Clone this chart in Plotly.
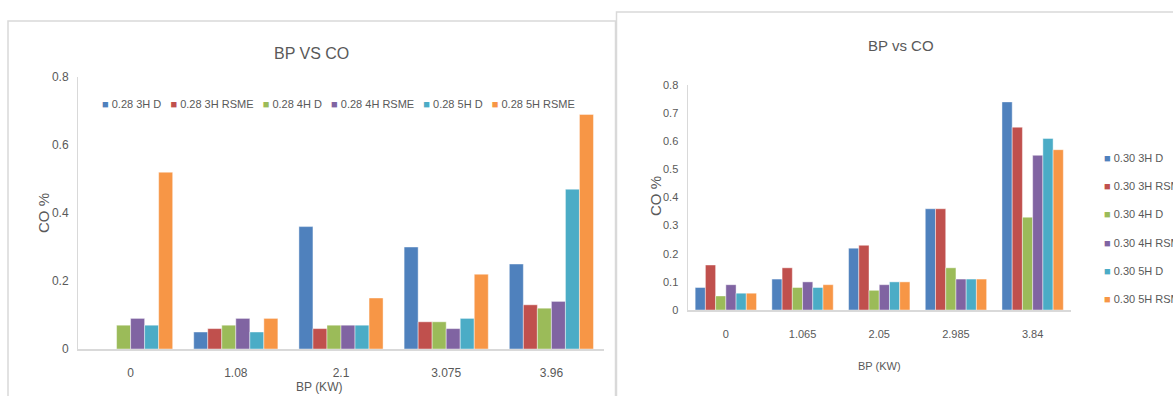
import plotly.graph_objects as go

W, H = 1173, 396

# Series shared by both charts
series = ["3H D", "3H RSME", "4H D", "4H RSME", "5H D", "5H RSME"]
colors = ["#4F81BD", "#C0504D", "#9BBB59", "#8064A2", "#4BACC6", "#F79646"]

# Chart 1: 0.28 runs
bp_028 = ["0", "1.08", "2.1", "3.075", "3.96"]
co_028_3h_d = [0, 0.05, 0.36, 0.30, 0.25]
co_028_3h_rsme = [0, 0.06, 0.06, 0.08, 0.13]
co_028_4h_d = [0.07, 0.07, 0.07, 0.08, 0.12]
co_028_4h_rsme = [0.09, 0.09, 0.07, 0.06, 0.14]
co_028_5h_d = [0.07, 0.05, 0.07, 0.09, 0.47]
co_028_5h_rsme = [0.52, 0.09, 0.15, 0.22, 0.69]

# Chart 2: 0.30 runs
bp_030 = ["0", "1.065", "2.05", "2.985", "3.84"]
co_030_3h_d = [0.08, 0.11, 0.22, 0.36, 0.74]
co_030_3h_rsme = [0.16, 0.15, 0.23, 0.36, 0.65]
co_030_4h_d = [0.05, 0.08, 0.07, 0.15, 0.33]
co_030_4h_rsme = [0.09, 0.10, 0.09, 0.11, 0.55]
co_030_5h_d = [0.06, 0.08, 0.10, 0.11, 0.61]
co_030_5h_rsme = [0.06, 0.09, 0.10, 0.11, 0.57]

left_vals = [co_028_3h_d, co_028_3h_rsme, co_028_4h_d,
             co_028_4h_rsme, co_028_5h_d, co_028_5h_rsme]
right_vals = [co_030_3h_d, co_030_3h_rsme, co_030_4h_d,
              co_030_4h_rsme, co_030_5h_d, co_030_5h_rsme]

FONT = "Liberation Sans, Arial, sans-serif"
GREY_TXT = "#595959"
GREY_LINE = "#D9D9D9"


def fx(x):
    return x / W


def fy(y):
    return 1 - y / H


def label(text, x, y, size, angle=0, xanchor="center"):
    return dict(text=text, x=fx(x), y=fy(y), xref="paper", yref="paper",
                xanchor=xanchor, yanchor="middle", textangle=angle,
                showarrow=False, font=dict(size=size, color=GREY_TXT))


fig = go.Figure()

for name, col, vals in zip(series, colors, left_vals):
    fig.add_trace(go.Bar(x=bp_028, y=vals, name=f"0.28 {name}", marker_color=col,
                         marker_line=dict(color="rgba(255,255,255,0.55)", width=0.8),
                         xaxis="x", yaxis="y", showlegend=False))

for name, col, vals in zip(series, colors, right_vals):
    fig.add_trace(go.Bar(x=bp_030, y=vals, name=f"0.30 {name}", marker_color=col,
                         marker_line=dict(color="rgba(255,255,255,0.55)", width=0.8),
                         xaxis="x2", yaxis="y2", showlegend=False))

common_x = dict(type="category", showline=True, linecolor=GREY_LINE, linewidth=2,
                ticks="outside", tickcolor="rgba(0,0,0,0)",
                showgrid=False, zeroline=False)
common_y = dict(range=[0, 0.8], showline=True, linecolor=GREY_LINE, linewidth=1,
                ticks="outside", ticklen=6, tickcolor="rgba(0,0,0,0)",
                showgrid=False, zeroline=False)

annotations = [
    # chart titles
    label("BP VS CO", 311, 53, 16),
    label("BP vs CO", 901, 45, 15),
    # axis titles
    label("CO %", 43, 213, 15, angle=-90),
    label("BP (KW)", 319, 387, 12),
    label("CO %", 655, 196, 15, angle=-90),
    label("BP (KW)", 879, 366, 11),
]

# Horizontal key for the 0.28 chart
gap = "\u00a0" * 3
key_left = gap.join(f"<span style='color:{c}'>■</span>\u00a00.28 {s}"
                    for s, c in zip(series, colors))
annotations.append(label(key_left, 338, 104, 11))

# Vertical key for the 0.30 chart
for i, (s, c) in enumerate(zip(series, colors)):
    annotations.append(label(f"<span style='color:{c}'>■</span>\u00a00.30 {s}",
                             1102, 158 + 28.2 * i, 11, xanchor="left"))

# Chart frames
shapes = [
    dict(type="rect", xref="paper", yref="paper", x0=fx(8), x1=fx(615.5),
         y0=-0.1, y1=fy(21), line=dict(color=GREY_LINE, width=1.5)),
    dict(type="rect", xref="paper", yref="paper", x0=fx(616.5), x1=1.1,
         y0=-0.1, y1=fy(12), line=dict(color=GREY_LINE, width=1.5)),
]

fig.update_layout(
    width=W, height=H,
    margin=dict(l=0, r=0, t=0, b=0, autoexpand=False),
    paper_bgcolor="white", plot_bgcolor="white",
    font=dict(family=FONT, color=GREY_TXT),
    barmode="group", bargap=0.2, bargroupgap=0,
    showlegend=False,
    xaxis=dict(domain=[fx(78), fx(604)], anchor="y", ticklen=12,
               tickfont=dict(size=12), **common_x),
    yaxis=dict(domain=[fy(349), fy(77)], anchor="x", dtick=0.2,
               tickfont=dict(size=12), **common_y),
    xaxis2=dict(domain=[fx(687.5), fx(1071)], anchor="y2", ticklen=13,
                tickfont=dict(size=11), **common_x),
    yaxis2=dict(domain=[fy(310), fy(85)], anchor="x2", dtick=0.1,
                tickfont=dict(size=11), **common_y),
    annotations=annotations,
    shapes=shapes,
)

fig.write_html("out.html")
